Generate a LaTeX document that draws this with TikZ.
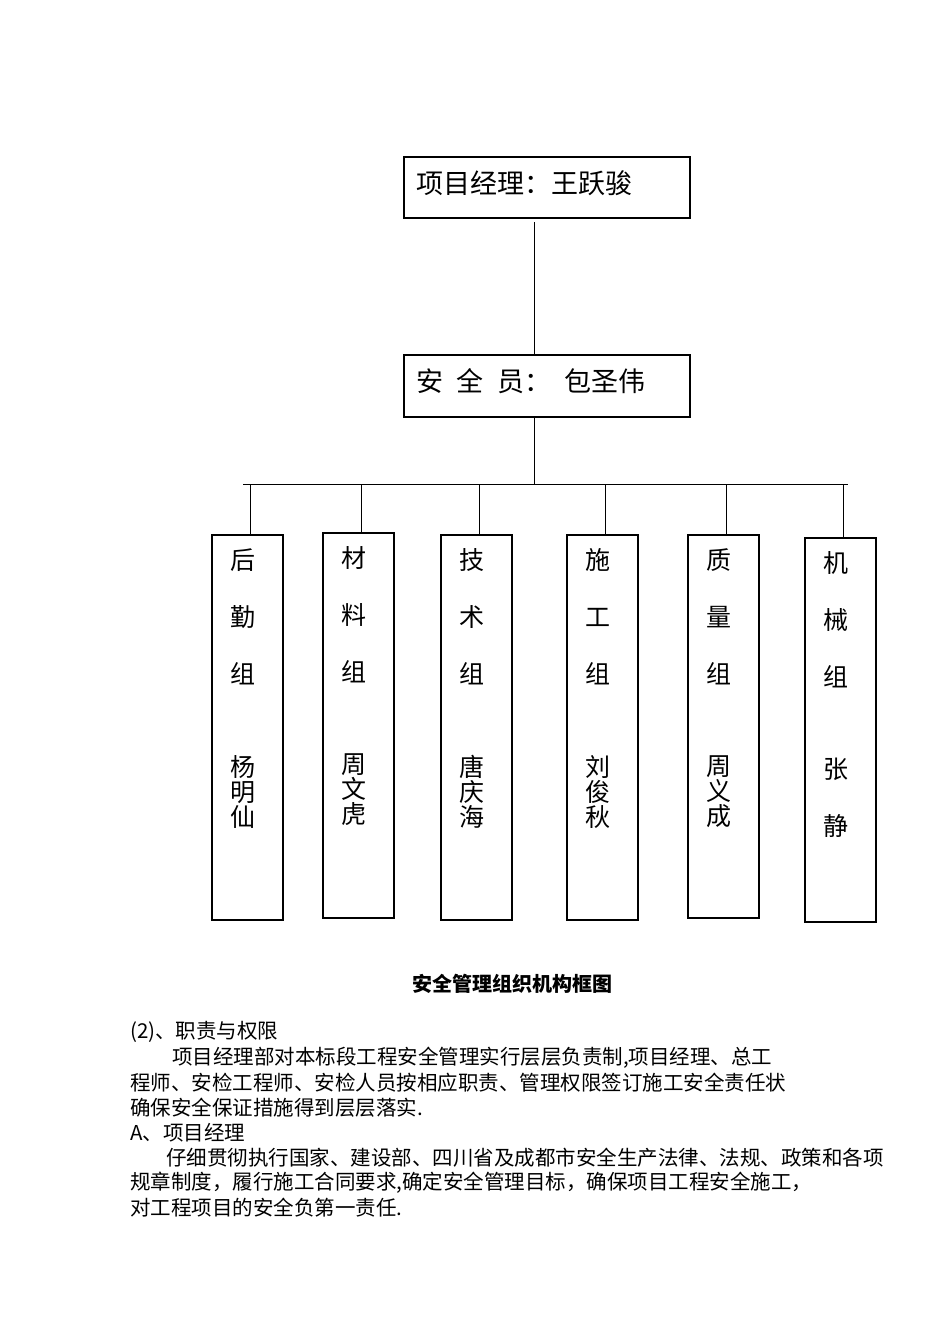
\documentclass[tikz,border=0pt]{standalone}
\usepackage{fontspec}
\setmainfont{Noto Sans CJK SC}
\newfontfamily\cjk{Noto Sans CJK SC}
\begin{document}
\begin{tikzpicture}[x=1pt,y=-1pt,
  box/.style={draw,line width=1.2pt},
  ln/.style={line width=1pt},
  big/.style={font=\fontsize{27}{30}\selectfont,anchor=west,inner sep=0},
  col/.style={font=\fontsize{25}{27}\selectfont,anchor=north,inner sep=0,align=center},
  body/.style={font=\fontsize{20.5}{24}\selectfont,anchor=west,inner sep=0}]
\useasboundingbox (0,0) rectangle (950,1344);
\draw[box] (404,157) rectangle (690,218);
\node[big] (t1) at (416,183) {项目经理：王跃骏};
\draw[box] (404,355) rectangle (690,417);
\node[big] (t2) at (416,381) {安\hspace{0.5em}全\hspace{0.5em}员：\hspace{0.5em}包圣伟};
\coordinate (a1) at (534,222); \coordinate (a2) at (534,355);
\draw[ln] (a1)--(a2);
\coordinate (b1) at (534,417); \coordinate (b2) at (534,484);
\draw[ln] (b1)--(b2);
\coordinate (hl) at (243,484); \coordinate (hr) at (848,484);
\draw[ln] (hl)--(hr);
\foreach \x/\t/\b/\tx/\name in {
 212/535/920/后\\[30pt]勤\\[30pt]组/杨\\[-2pt]明\\[-2pt]仙,
 323/533/918/材\\[30pt]料\\[30pt]组/周\\[-2pt]文\\[-2pt]虎,
 441/535/920/技\\[30pt]术\\[30pt]组/唐\\[-2pt]庆\\[-2pt]海,
 567/535/920/施\\[30pt]工\\[30pt]组/刘\\[-2pt]俊\\[-2pt]秋,
 688/535/918/质\\[30pt]量\\[30pt]组/周\\[-2pt]义\\[-2pt]成,
 805/538/922/机\\[30pt]械\\[30pt]组/张\\[30pt]静}{
  \draw[box] (\x,\t) rectangle ({\x+71},\b);
  \pgfmathsetmacro\cx{\x+31}
  \pgfmathsetmacro\dx{\x+38}
  \draw[ln] (\dx,484) -- (\dx,\t);
  \node[col] at (\cx,{\t+13}) {\tx};
  \node[col] at (\cx,{\t+220}) {\name};
}
\node[font=\fontsize{20}{24}\selectfont\bfseries] (cap) at (512,984) {安全管理组织机构框图};
\node[body] (l1) at (130,1032) {(2)、职责与权限};
\node[body] (l2) at (172,1058) {项目经理部对本标段工程安全管理实行层层负责制,项目经理、总工};
\node[body] (l3) at (130,1083) {程师、安检工程师、安检人员按相应职责、管理权限签订施工安全责任状};
\node[body] (l4) at (130,1108) {确保安全保证措施得到层层落实.};
\node[body] (l5) at (130,1133) {A、项目经理};
\node[body] (l6) at (166,1158) {仔细贯彻执行国家、建设部、四川省及成都市安全生产法律、法规、政策和各项};
\node[body] (l7) at (130,1183) {规章制度，履行施工合同要求,确定安全管理目标，确保项目工程安全施工，};
\node[body] (l8) at (130,1208) {对工程项目的安全负第一责任.};
\end{tikzpicture}
\end{document}
